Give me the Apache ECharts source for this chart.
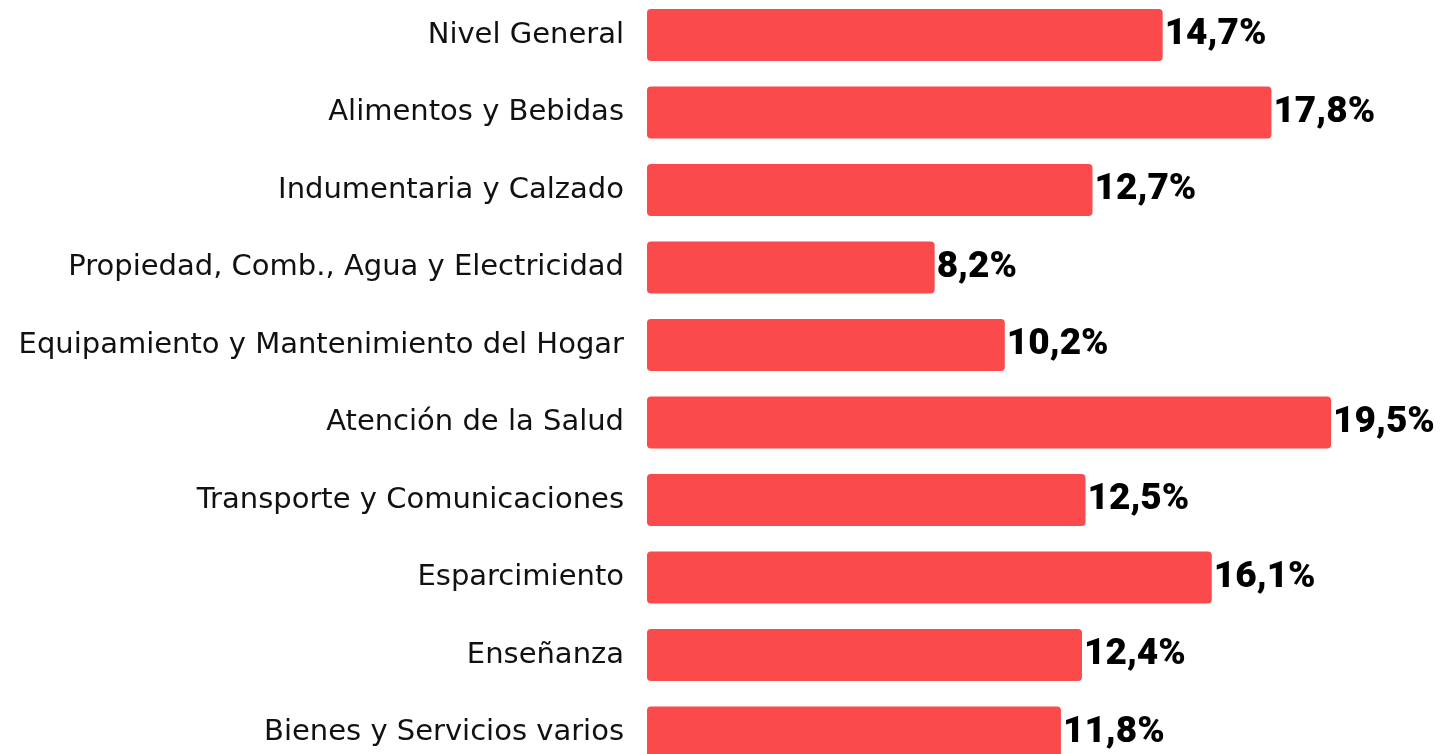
<!DOCTYPE html>
<html>
<head>
<meta charset="utf-8">
<script src="https://cdn.jsdelivr.net/npm/echarts@6/dist/echarts.min.js"></script>
<style>
  html, body { margin: 0; padding: 0; background: #fff; }
  #chart { width: 1449px; height: 754px; }
</style>
</head>
<body>
<div id="chart"></div>
<script>
// rubros del IPC y variación
const categories = [
    'Nivel General',
    'Alimentos y Bebidas',
    'Indumentaria y Calzado',
    'Propiedad, Comb., Agua y Electricidad',
    'Equipamiento y Mantenimiento del Hogar',
    'Atención de la Salud',
    'Transporte y Comunicaciones',
    'Esparcimiento',
    'Enseñanza',
    'Bienes y Servicios varios'
];
const values = [14.7, 17.8, 12.7, 8.2, 10.2, 19.5, 12.5, 16.1, 12.4, 11.8];

const chart = echarts.init(document.getElementById('chart'));

const option = {
    backgroundColor: '#ffffff',
    animation: false,
    grid: {
        left: 647,
        top: -3.75,
        bottom: -17.25,
        width: 701.6,
        containLabel: false,
        outerBoundsMode: 'none'
    },
    xAxis: {
        type: 'value',
        min: 0,
        max: 20,
        show: false
    },
    yAxis: {
        type: 'category',
        data: categories,
        inverse: true,
        axisLine: { show: false },
        axisTick: { show: false },
        splitLine: { show: false },
        axisLabel: {
            margin: 23,
            fontSize: 29,
            fontFamily: 'DejaVu Sans',
            color: '#111111',
            padding: [8, 0, 0, 0]
        }
    },
    series: [
        {
            type: 'bar',
            data: values,
            barWidth: 52,
            itemStyle: {
                color: '#fa4a4b',
                borderRadius: 4
            },
            label: {
                show: true,
                position: 'right',
                distance: 2,
                fontFamily: 'Roboto',
                fontWeight: 900,
                fontSize: 37,
                color: '#000000',
                padding: [0, 0, 4, 0],
                formatter: p => p.value.toFixed(1).replace('.', ',') + '%'
            }
        }
    ]
};

chart.setOption(option);
</script>
</body>
</html>
